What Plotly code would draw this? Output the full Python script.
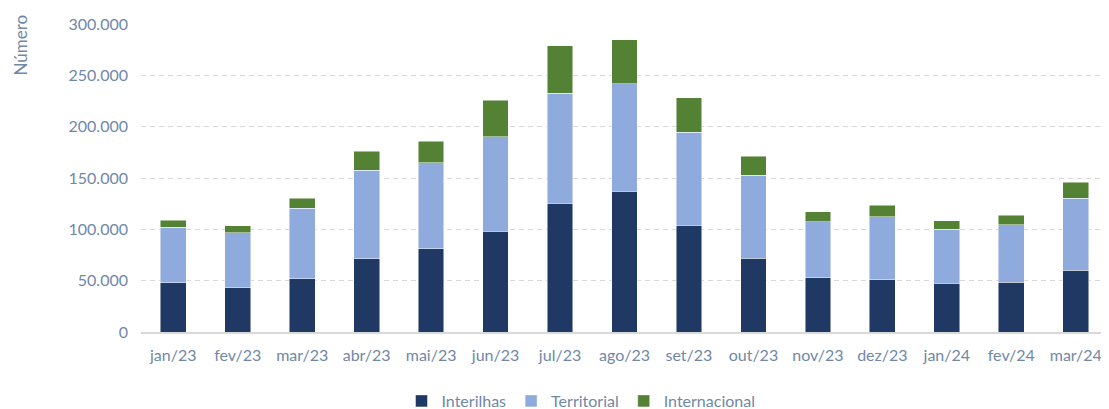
import plotly.graph_objects as go

months = ["jan/23", "fev/23", "mar/23", "abr/23", "mai/23", "jun/23", "jul/23", "ago/23",
          "set/23", "out/23", "nov/23", "dez/23", "jan/24", "fev/24", "mar/24"]
interilhas = [48000, 43100, 51900, 71400, 81100, 98300, 125200, 136900,
              104200, 71700, 52900, 50900, 47700, 48300, 60000]
territorial = [53800, 53600, 68500, 86300, 84000, 91900, 107500, 104900,
               90200, 81200, 54500, 61400, 52200, 56200, 70500]
internacional = [6900, 6800, 10100, 18200, 20500, 35300, 46100, 42800,
                 33700, 18100, 9700, 11000, 8500, 9400, 15200]

colors = {"Interilhas": "#203864", "Territorial": "#8FAADC", "Internacional": "#548235"}
txt = "#6F88A8"
font_family = "Lato, 'Noto Sans', sans-serif"

fig = go.Figure()
for name, vals in [("Interilhas", interilhas), ("Territorial", territorial), ("Internacional", internacional)]:
    fig.add_trace(go.Bar(x=months, y=vals, name=name, marker_color=colors[name],
                         marker_line=dict(color="rgba(255,255,255,0.6)", width=0.8)))

# the page adds an 8px body margin, so the figure is sized/offset to compensate
fig.update_layout(
    barmode="stack",
    bargap=0.6,
    width=1101, height=401,
    margin=dict(l=133, r=1, t=16, b=77),
    paper_bgcolor="white", plot_bgcolor="white",
    separators=",.",
    font=dict(family=font_family, color=txt, size=16),
    legend=dict(orientation="h", x=0.455, xanchor="center", yref="container", y=0.02, yanchor="middle",
                font=dict(size=16, color=txt), traceorder="normal", itemwidth=30),
    yaxis=dict(range=[0, 300000], dtick=50000, tickformat=",d",
               showgrid=True, gridcolor="#D9D9D9", griddash="5px,4px", gridwidth=1.3,
               zeroline=False, ticks="", ticklabelstandoff=12, showline=False),
    xaxis=dict(showline=True, linecolor="#D9D9D9", linewidth=2, ticks="", tickangle=0,
               ticklabelstandoff=8),
    showlegend=True,
)
fig.add_annotation(text="Número", textangle=-90, xref="paper", yref="paper",
                   x=-0.125, y=1.036, xanchor="center", yanchor="top", showarrow=False,
                   font=dict(size=17, color=txt))

fig.write_html("out.html")
